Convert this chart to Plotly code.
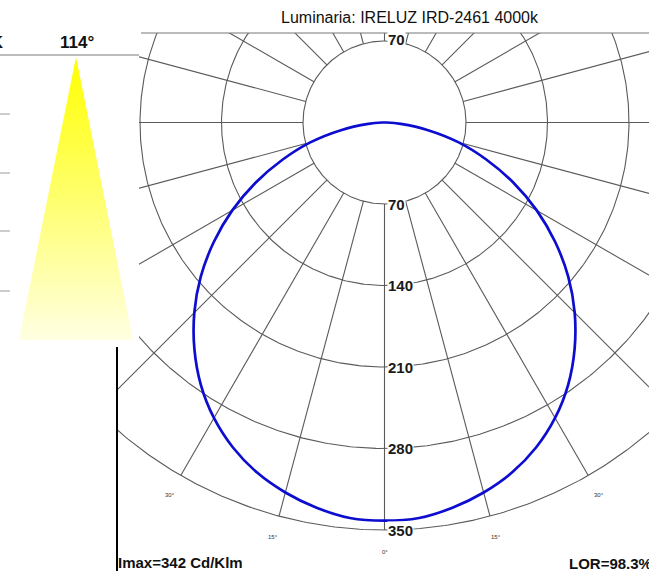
"""
Diagrama polar de distribución luminosa (curva fotométrica) con Plotly
"""
import numpy as np
import plotly.graph_objects as go

# Intensidad (cd/klm) según el ángulo gamma desde la vertical; distribución simétrica
gamma_deg = [0, 5, 10, 15, 20, 25, 30, 35, 40, 45, 50, 55, 60, 65, 70, 75, 80, 85, 90,
             180]
intensity_cd = [342, 341, 336, 329, 320, 308, 293, 275, 254, 231, 206, 179, 151, 122,
                93, 66, 38, 14, 2, 0]

radial_ticks = [70, 140, 210, 280, 350]
angle_ticks = [-30, -15, 0, 15, 30]
spoke_angles = list(range(0, 360, 15))

title_text = "Luminaria: IRELUZ IRD-2461 4000k"
imax_text = "Imax=342 Cd/Klm"
lor_text = "LOR=98.3%"
beam_text = "114°"

W, H = 649, 571
CX, CY = 384.5, 122.5          # centro del diagrama (px)
K = 81.5 / 70                  # px por cd
FONT = "Liberation Sans, Arial, sans-serif"
GRID = "#5a5a5a"


def px(x):
    return x / W


def py(y):
    return 1 - y / H


fig = go.Figure()

# Círculos de intensidad
t = np.linspace(0, 2 * np.pi, 721)
for r in radial_ticks:
    fig.add_trace(go.Scatter(
        x=r * np.sin(t), y=r * np.cos(t),
        mode="lines", line=dict(color=GRID, width=1.1),
        hoverinfo="skip", showlegend=False
    ))

# Radios cada 15 grados, desde el primer círculo hasta el último
sx, sy = [], []
for a in spoke_angles:
    rad = np.radians(a)
    sx += [radial_ticks[0] * np.sin(rad), radial_ticks[-1] * np.sin(rad), None]
    sy += [-radial_ticks[0] * np.cos(rad), -radial_ticks[-1] * np.cos(rad), None]
fig.add_trace(go.Scatter(
    x=sx, y=sy, mode="lines", line=dict(color=GRID, width=1.1),
    hoverinfo="skip", showlegend=False
))

# Curva fotométrica: C0 (0..180) y vuelta por C180 hasta cerrar abajo
g = np.radians(gamma_deg)
i_cd = np.array(intensity_cd, dtype=float)
ang = np.concatenate([g, -g[-2::-1]])
ii = np.concatenate([i_cd, i_cd[-2::-1]])
fig.add_trace(go.Scatter(
    x=ii * np.sin(ang), y=-ii * np.cos(ang),
    mode="lines", line=dict(color="#0d0dd0", width=2.7, shape="spline", smoothing=1),
    showlegend=False
))

# Panel izquierdo con el cono de luz
fig.add_trace(go.Scatter(
    x=[0, 139, 139, 0, 0], y=[0, 0, 346, 346, 0],
    xaxis="x2", yaxis="y2", mode="lines", fill="toself",
    fillcolor="white", line=dict(width=0), hoverinfo="skip", showlegend=False
))
fig.add_trace(go.Scatter(
    x=[76, 133, 19, 76], y=[57, 340, 340, 57],
    xaxis="x2", yaxis="y2", mode="lines", fill="toself",
    fillgradient=dict(type="vertical", start=57, stop=340,
                      colorscale=[[0, "#ffff00"], [0.5, "#ffff6e"], [1, "#ffffe2"]]),
    line=dict(width=0), hoverinfo="skip", showlegend=False
))

annotations = []

# Etiquetas de intensidad sobre el eje vertical
for r in radial_ticks:
    annotations.append(dict(
        x=2.2, y=-r, xref="x", yref="y", text=str(r), showarrow=False,
        xanchor="left", yanchor="middle", bgcolor="white", borderpad=0,
        font=dict(family=FONT, size=15, color="#1a1a1a", weight="bold")
    ))
annotations.append(dict(
    x=2.2, y=radial_ticks[0] + 1, xref="x", yref="y", text=str(radial_ticks[0]),
    showarrow=False, xanchor="left", yanchor="middle", bgcolor="white", borderpad=0,
    font=dict(family=FONT, size=15, color="#1a1a1a", weight="bold")
))

# Etiquetas de ángulo
for a in angle_ticks:
    rad = np.radians(a)
    annotations.append(dict(
        x=369 * np.sin(rad), y=-369 * np.cos(rad), xref="x", yref="y",
        text=f"{abs(a)}°", showarrow=False, xanchor="center", yanchor="middle",
        font=dict(family=FONT, size=6, color="#333333")
    ))

# Textos del panel y pie
annotations += [
    dict(x=px(410), y=py(18), xref="paper", yref="paper", text=title_text,
         xanchor="center", yanchor="middle", showarrow=False,
         font=dict(family=FONT, size=16, color="#111111")),
    dict(x=px(77), y=py(42), xref="paper", yref="paper", text=beam_text,
         xanchor="center", yanchor="middle", showarrow=False,
         font=dict(family=FONT, size=17, color="#111111", weight="bold")),
    dict(x=px(6), y=py(42), xref="paper", yref="paper", text="4000K",
         xanchor="right", yanchor="middle", showarrow=False,
         font=dict(family=FONT, size=17, color="#111111", weight="bold")),
    dict(x=px(116), y=py(562), xref="paper", yref="paper", text=imax_text,
         xanchor="left", yanchor="middle", showarrow=False,
         font=dict(family=FONT, size=15, color="#111111", weight="bold")),
    dict(x=px(567), y=py(563), xref="paper", yref="paper", text=lor_text,
         xanchor="left", yanchor="middle", showarrow=False,
         font=dict(family=FONT, size=15, color="#111111", weight="bold")),
]

shapes = [
    # marco superior e izquierdo del diagrama
    dict(type="line", xref="paper", yref="paper", x0=px(141), x1=1, y0=py(33), y1=py(33),
         line=dict(color="#777777", width=1)),
    dict(type="line", xref="paper", yref="paper", x0=px(117), x1=px(117), y0=py(347), y1=0,
         line=dict(color="#000000", width=2)),
    # línea del panel y marcas de escala
    dict(type="line", xref="paper", yref="paper", x0=0, x1=px(139), y0=py(55), y1=py(55),
         line=dict(color="#7a7a7a", width=1)),
]
for ty in [114, 173, 231, 291]:
    shapes.append(dict(type="line", xref="paper", yref="paper", x0=0, x1=px(10),
                       y0=py(ty), y1=py(ty), line=dict(color="#9a9a9a", width=1)))

fig.update_layout(
    width=W, height=H,
    margin=dict(l=0, r=0, t=0, b=0),
    paper_bgcolor="white", plot_bgcolor="white",
    showlegend=False,
    xaxis=dict(domain=[px(117), 1], range=[(117 - CX) / K, (W - CX) / K], visible=False),
    yaxis=dict(domain=[0, py(33)], range=[-(H - CY) / K, (CY - 33) / K], visible=False),
    xaxis2=dict(domain=[0, px(139)], range=[0, 139], visible=False),
    yaxis2=dict(domain=[py(346), 1], range=[346, 0], visible=False),
    annotations=annotations,
    shapes=shapes,
)

fig.write_html(
    "out.html",
    config={"displayModeBar": False},
    post_script="document.body.style.margin='0';document.body.style.overflow='hidden';",
)
